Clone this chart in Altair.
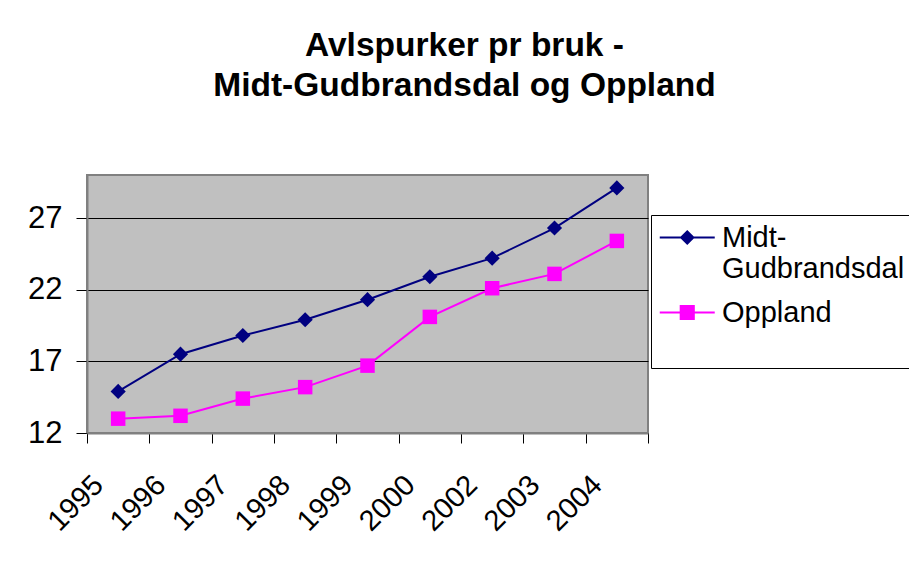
import altair as alt
import pandas as pd

years = ["1995", "1996", "1997", "1998", "1999", "2000", "2002", "2003", "2004"]
midt = [14.9, 17.5, 18.8, 19.9, 21.3, 22.9, 24.2, 26.3, 29.1]
oppland = [13.0, 13.2, 14.4, 15.2, 16.7, 20.1, 22.1, 23.1, 25.4]
series_names = ["Midt-Gudbrandsdal", "Oppland"]
series_colors = ["#000080", "#FF00FF"]
y_ticks = [12, 17, 22, 27]

rows = []
for name, vals in zip(series_names, [midt, oppland]):
    for yr, v in zip(years, vals):
        rows.append({"year": yr, "value": v, "series": name})
df = pd.DataFrame(rows)

FONT = "Liberation Sans"

x_enc = alt.X(
    "year:N", sort=years,
    scale=alt.Scale(type="band", paddingInner=0, paddingOuter=0),
    axis=alt.Axis(title=None, tickBand="extent", labelAngle=-45, labelAlign="right",
                  labelBaseline="middle", labelOffset=-20, labelPadding=37, tickSize=10,
                  labelFontSize=29, labelFont=FONT, labelColor="black", tickColor="black",
                  domainColor="#808080", domainWidth=2, grid=False),
)
y_enc = alt.Y(
    "value:Q",
    scale=alt.Scale(domain=[12, 30], nice=False, zero=False),
    axis=alt.Axis(title=None, values=y_ticks, grid=True, gridColor="black", gridWidth=1,
                  labelFontSize=31, labelFont=FONT, labelColor="black", tickSize=11,
                  labelPadding=14, tickColor="black", domainColor="#808080", domainWidth=2),
)

legend_paths = [
    "M-1,-0.073H3V0.073H-1ZM1,-0.55L1.55,0L1,0.55L0.45,0Z",
    "M-1,-0.073H3V0.073H-1ZM0.45,-0.55H1.55V0.55H0.45Z",
]
leg = alt.Legend(
    title=" ", titleOrient="bottom", titleFontSize=24, titlePadding=8,
    orient="none", legendX=564, legendY=40,
    labelExpr="datum.label == 'Midt-Gudbrandsdal' ? ['Midt-', 'Gudbrandsdal'] : datum.label",
    labelFontSize=29, labelFont=FONT, labelColor="black", labelLimit=500, labelOffset=34,
    symbolSize=756, symbolOpacity=1, padding=8, rowPadding=14,
    strokeColor="black", fillColor="white", labelBaseline="middle",
)

lines = alt.Chart(df).mark_line(strokeWidth=2).encode(
    x=x_enc, y=y_enc,
    color=alt.Color("series:N", scale=alt.Scale(domain=series_names, range=series_colors), legend=None),
)
diamonds = alt.Chart(df).mark_point(filled=True, opacity=1, shape="diamond", size=230,
                                    color=series_colors[0]).encode(
    x=x_enc, y=y_enc,
).transform_filter(alt.datum.series == series_names[0])
squares = alt.Chart(df).mark_point(filled=True, opacity=1, shape="square", size=210,
                                   color=series_colors[1]).encode(
    x=x_enc, y=y_enc,
).transform_filter(alt.datum.series == series_names[1])
legend_layer = alt.Chart(df).mark_point(filled=True, opacity=0).encode(
    x=x_enc, y=y_enc,
    color=alt.Color("series:N", scale=alt.Scale(domain=series_names, range=series_colors), legend=leg),
    shape=alt.Shape("series:N", scale=alt.Scale(domain=series_names, range=legend_paths), legend=leg),
)

chart = alt.layer(lines, diamonds, squares, legend_layer).resolve_scale(
    color="independent", shape="independent"
).properties(
    width=561, height=258,
    autosize=alt.AutoSizeParams(type="none"),
    padding={"left": 79, "top": 167, "right": 261, "bottom": 112},
    title=alt.TitleParams(
        text=["Avlspurker pr bruk -", "Midt-Gudbrandsdal og Oppland"],
        fontSize=33.5, font=FONT, fontWeight="bold", color="black", lineHeight=40,
        anchor="middle", frame="group", dx=97, offset=72,
    ),
    background="white",
).configure_view(fill="#C0C0C0", stroke="#808080", strokeWidth=2)

chart.save("out.html", embed_options={"renderer": "svg", "actions": False})
